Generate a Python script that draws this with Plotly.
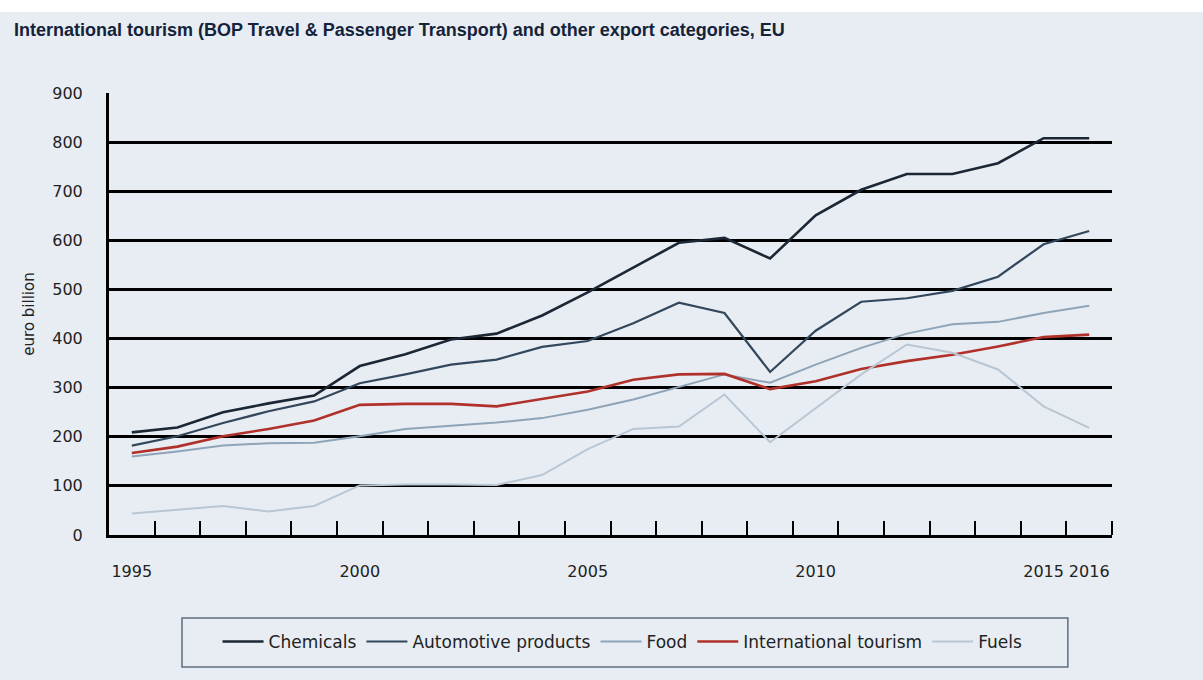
import plotly.graph_objects as go

years = list(range(1995, 2017))
chemicals = [209, 219, 250, 268, 284, 344, 368, 398, 410, 447, 494, 544, 595, 605, 563, 651, 703, 735, 735, 757, 808, 808]
automotive = [182, 201, 228, 252, 272, 309, 327, 347, 357, 383, 395, 431, 473, 452, 332, 416, 475, 482, 497, 526, 592, 619]
food = [160, 170, 182, 187, 188, 201, 216, 222, 229, 238, 255, 276, 301, 327, 310, 347, 381, 410, 429, 434, 452, 467]
tourism = [167, 180, 201, 216, 233, 265, 267, 267, 262, 277, 292, 316, 327, 328, 297, 313, 338, 354, 367, 384, 403, 408]
fuels = [44, 52, 59, 48, 59, 101, 103, 103, 102, 122, 175, 216, 221, 286, 189, 258, 327, 388, 371, 337, 262, 218]

tick_years = [1995, 2000, 2005, 2010, 2015, 2016]
boundary_ticks = [y + 0.5 for y in years]
y_ticks = list(range(0, 901, 100))

series = [
    ("Chemicals", chemicals, "#1C2735", 2.6),
    ("Automotive products", automotive, "#33475C", 2.2),
    ("Food", food, "#8FA4B7", 2.0),
    ("International tourism", tourism, "#B0302A", 2.6),
    ("Fuels", fuels, "#B9C6D3", 2.0),
]

BG = "#E8EDF3"
TICKFONT = "DejaVu Sans, Verdana, sans-serif"
TITLEFONT = "Liberation Sans, Arial, sans-serif"

fig = go.Figure()
for name, vals, color, w in series:
    fig.add_trace(go.Scatter(x=years, y=vals, name=name, mode="lines",
                             line=dict(color=color, width=w)))

fig.update_layout(
    width=1203, height=680,
    paper_bgcolor=BG, plot_bgcolor=BG,
    margin=dict(l=109, r=91, t=93, b=145),
    font=dict(family=TICKFONT, size=16, color="#222222"),
    title=dict(text="<b>International tourism (BOP Travel &amp; Passenger Transport) and other export categories, EU</b>",
               x=14 / 1203, xanchor="left", xref="container", y=1 - 30 / 680, yanchor="middle",
               yref="container",
               font=dict(family=TITLEFONT, size=18, color="#14233A")),
    showlegend=True,
    legend=dict(orientation="h", x=0.512, xanchor="center", y=-0.242, yanchor="middle",
                bgcolor="rgba(0,0,0,0)", borderwidth=0,
                font=dict(family=TICKFONT, size=17, color="#222222"),
                itemwidth=41, traceorder="normal"),
    xaxis=dict(range=[1994.5, 2016.5], tickmode="array", tickvals=tick_years,
               ticktext=[str(t) for t in tick_years], ticks="", showgrid=False,
               showline=True, linecolor="black", linewidth=2.5, zeroline=False,
               ticklabelstandoff=20,
               tickfont=dict(family=TICKFONT, size=16, color="#222222"),
               minor=dict(tickmode="array", tickvals=boundary_ticks, ticks="inside",
                          ticklen=14, tickwidth=2, tickcolor="black", showgrid=False)),
    yaxis=dict(range=[0, 900], tickmode="array", tickvals=y_ticks, ticks="",
               showgrid=True, gridcolor="black", gridwidth=2.5,
               showline=True, linecolor="black", linewidth=3, zeroline=False,
               ticklabelstandoff=20,
               tickfont=dict(family=TICKFONT, size=16, color="#222222"),
               title=dict(text="euro billion", font=dict(family=TICKFONT, size=15, color="#222222"),
                          standoff=15)),
    shapes=[
        dict(type="rect", xref="paper", yref="paper", x0=-0.2, x1=1.2,
             y0=1.183, y1=1.3, fillcolor="white", line=dict(width=0), layer="below"),
        dict(type="rect", xref="paper", yref="paper", x0=0.0728, x1=0.956,
             y0=-0.2986, y1=-0.1878, fillcolor="rgba(0,0,0,0)",
             line=dict(color="#5E6E7E", width=1.5), layer="below"),
    ],
)

fig.write_html("out.html", config={"displayModeBar": False},
               post_script="document.body.style.margin='0';")
